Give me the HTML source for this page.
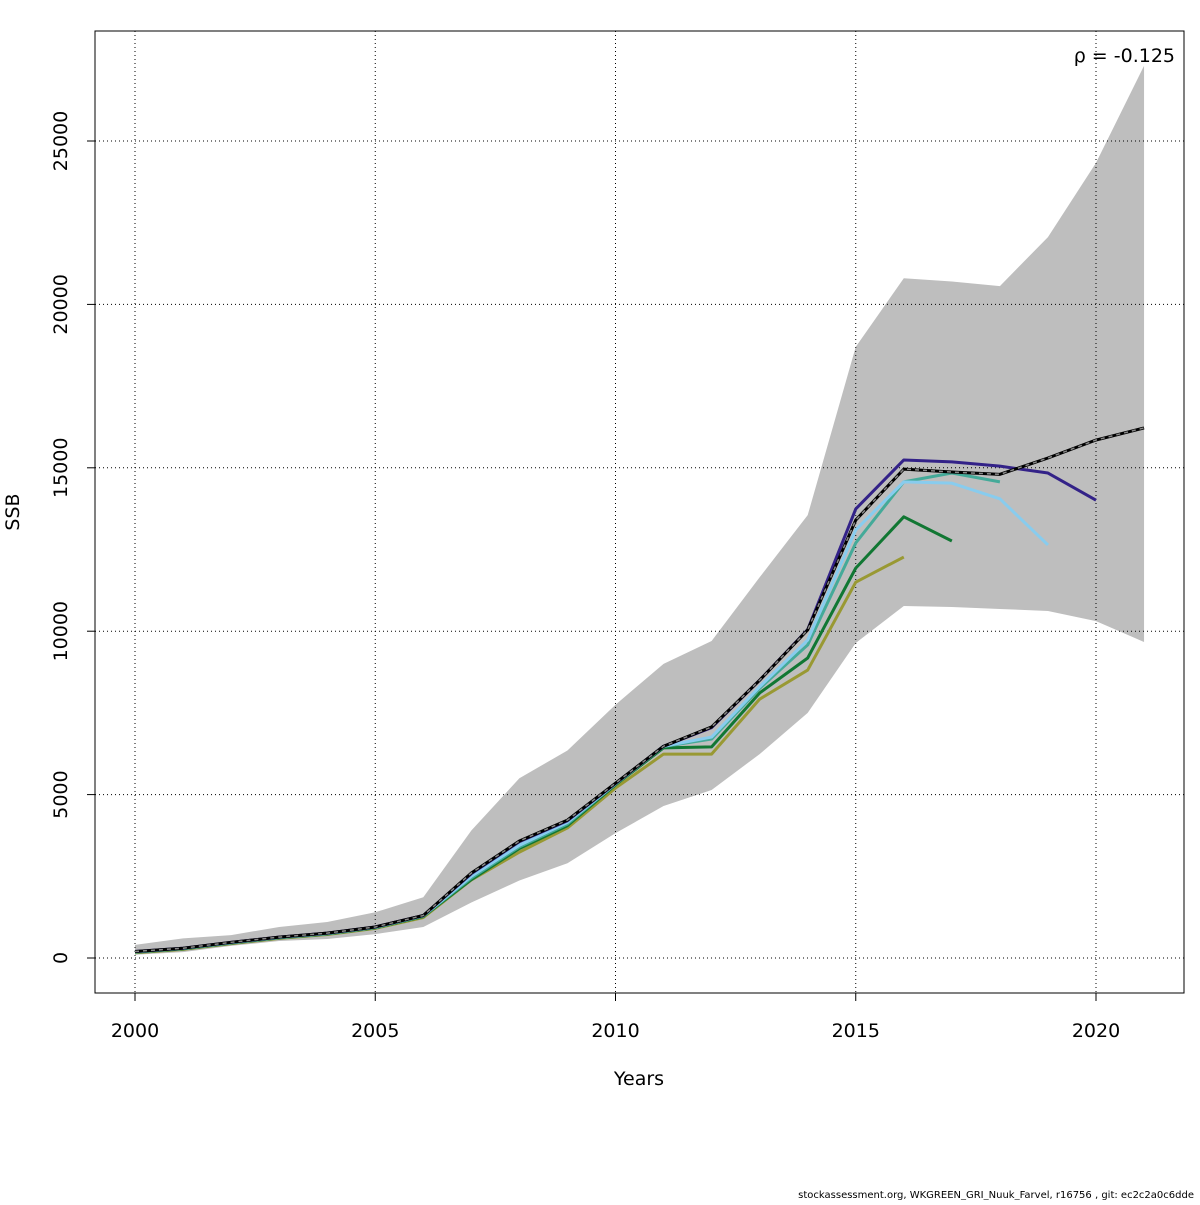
<!DOCTYPE html>
<html><head><meta charset="utf-8"><style>
body{margin:0;background:#fff}
svg text{font-family:"DejaVu Sans","Liberation Sans",sans-serif;fill:#000}
</style></head><body>
<svg id="c" width="1200" height="1200" xmlns="http://www.w3.org/2000/svg"></svg>
<script>
const years=[2000,2001,2002,2003,2004,2005,2006,2007,2008,2009,2010,2011,2012,2013,2014,2015,2016,2017,2018,2019,2020,2021];
const baseSSB=[200,300,480,640,760,950,1300,2600,3580,4220,5350,6480,7070,8500,10040,13400,14960,14870,14800,15300,15850,16220];
const upperCI=[400,600,700,950,1100,1400,1860,3900,5500,6350,7750,9000,9700,11650,13550,18700,20800,20700,20560,22060,24330,27300];
const lowerCI=[100,180,370,520,580,730,950,1700,2370,2900,3820,4650,5140,6240,7500,9640,10770,10740,10680,10620,10310,9670];
const peel2020=[200,300,480,640,760,950,1300,2580,3560,4200,5340,6480,7050,8500,10050,13740,15240,15180,15050,14840,14010];
const peel2019=[190,295,470,630,750,940,1290,2500,3450,4150,5330,6480,6760,8300,9730,13100,14570,14530,14050,12640];
const peel2018=[185,290,465,625,745,935,1285,2450,3400,4100,5330,6470,6700,8250,9580,12700,14570,14840,14570];
const peel2017=[175,280,455,615,735,925,1270,2400,3350,4050,5300,6430,6460,8110,9180,11930,13500,12760];
const peel2016=[160,265,440,600,720,905,1240,2390,3240,3980,5200,6240,6240,7920,8810,11500,12270];
const yTicks=[0,5000,10000,15000,20000,25000];
const xTicks=[2000,2005,2010,2015,2020];
const rhoLabel="ρ = -0.125";

const NS="http://www.w3.org/2000/svg",svg=document.getElementById('c');
const L=95,R=1184,T=31,B=993;
const X=v=>135+(v-2000)*(1096-135)/20;
const Y=v=>958-v*(958-141)/25000;
function mk(tag,attrs,parent){const e=document.createElementNS(NS,tag);for(const k in attrs)e.setAttribute(k,attrs[k]);(parent||svg).appendChild(e);return e;}

let pts=years.map((y,i)=>X(y)+','+Y(upperCI[i]));
for(let i=years.length-1;i>=0;i--)pts.push(X(years[i])+','+Y(lowerCI[i]));
const band=mk('polygon',{points:pts.join(' '),fill:'#bebebe',stroke:'none'});



yTicks.forEach(v=>{const g=mk('line',{x1:L,x2:R,y1:Y(v),y2:Y(v),stroke:'#000','stroke-width':1,'stroke-dasharray':'1,3'});

});
xTicks.forEach(v=>{const g=mk('line',{x1:X(v),x2:X(v),y1:T,y2:B,stroke:'#000','stroke-width':1,'stroke-dasharray':'1,3'});

});

function line(arr,color,name){
  const p=arr.map((v,i)=>X(years[i])+','+Y(v)).join(' ');
  const e=mk('polyline',{points:p,fill:'none',stroke:color,'stroke-width':3,'stroke-linejoin':'round'});
  
  
  return p;
}
line(peel2016,'#999933','peel-2016-line');
line(peel2017,'#117733','peel-2017-line');
line(peel2018,'#44aa99','peel-2018-line');
line(peel2019,'#88ccee','peel-2019-line');
line(peel2020,'#332288','peel-2020-line');
const bp=line(baseSSB,'#000','base-ssb-line');
const d=mk('polyline',{points:bp,fill:'none',stroke:'#888','stroke-width':1.5,'stroke-dasharray':'4,4'});



const box=mk('rect',{x:L,y:T,width:R-L,height:B-T,fill:'none',stroke:'#000','stroke-width':1});



xTicks.forEach(v=>{const t=mk('line',{x1:X(v),x2:X(v),y1:B,y2:B+8,stroke:'#000'});


const tx=mk('text',{x:X(v),y:1037,'font-size':19,'text-anchor':'middle'});tx.textContent=v;

});
yTicks.forEach(v=>{const t=mk('line',{x1:L-8,x2:L,y1:Y(v),y2:Y(v),stroke:'#000'});


const tx=mk('text',{x:0,y:0,'font-size':19,'text-anchor':'middle',transform:`translate(67,${Y(v)}) rotate(-90)`});tx.textContent=v;

});

const xt=mk('text',{x:639,y:1085,'font-size':19,'text-anchor':'middle'});xt.textContent='Years';


const yt=mk('text',{x:0,y:0,'font-size':19,'text-anchor':'middle',transform:'translate(19,512) rotate(-90)'});yt.textContent='SSB';


const rt=mk('text',{x:1175,y:62,'font-size':19,'text-anchor':'end'});rt.textContent=rhoLabel;


const ft=mk('text',{x:1194,y:1198,'font-size':10,'text-anchor':'end'});ft.textContent='stockassessment.org, WKGREEN_GRI_Nuuk_Farvel, r16756 , git: ec2c2a0c6dde';


</script>
</body></html>
